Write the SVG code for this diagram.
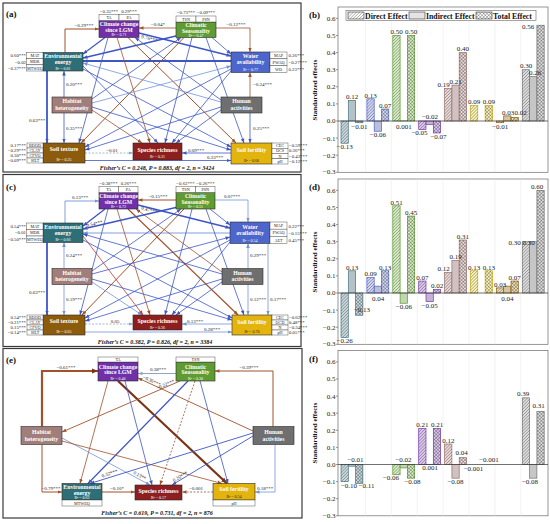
<svg xmlns="http://www.w3.org/2000/svg" width="550" height="524" viewBox="0 0 550 524">
<style>
text{font-family:"Liberation Serif","Times New Roman",serif}
.fr{fill:none;stroke:#3a3a3a;stroke-width:1.2}
.pl{font-size:9px;font-weight:bold;fill:#111}
.nb{stroke:#2a2a2a;stroke-width:.6}
.nt{font-size:5.8px;font-weight:bold;fill:#fff;text-anchor:middle}
.r2{font-size:4px;fill:#fff;text-anchor:middle}
.r2d{font-size:4px;fill:#222;text-anchor:middle}
.tb{fill:#fff;stroke:#444;stroke-width:.45}
.tt{font-size:4.2px;fill:#222;text-anchor:middle}
.lv{font-size:4.8px;fill:#222}
.lb{font-size:5px;fill:#222;text-anchor:middle}
.ls{font-size:5px;fill:#222}
.fc{font-size:6px;font-weight:bold;font-style:italic;fill:#111;text-anchor:middle}
.e path{fill:none}
.eb{stroke:#3d55c6}.el{stroke:#7393da}.er{stroke:#a0522d}.eg{stroke:#8ea5c5}.ed{stroke:#c63a2e}.ek{stroke:#7a3414}
.pb{fill:#fff;stroke:#6a6a6a;stroke-width:.7}
.gl{stroke:#e4e4e4;stroke-width:.5}
.zl{stroke:#333;stroke-width:.7}
.tk{stroke:#555;stroke-width:.6}
.ty{font-size:7px;fill:#222;text-anchor:end}
.vl{font-size:7px;fill:#222;text-anchor:middle}
.yt{font-size:7px;font-weight:bold;fill:#111;text-anchor:middle}
.lg{font-size:7.8px;font-weight:bold;fill:#111}
.c0,.c1,.c2,.c3,.c4,.c5,.c6,.c7,.cw{stroke-width:.7}
.c0{fill:#c9d9de;stroke:#4b7a86}.c1{fill:#d0d6f7;stroke:#5466cc}.c2{fill:#d8efc4;stroke:#5e9d34}.c3{fill:#dcc8ef;stroke:#7b3db3}
.c4{fill:#ead9d8;stroke:#9a7572}.c5{fill:#fbf4b8;stroke:#d1ae14}.c6{fill:#efdcb4;stroke:#8b6414}.c7{fill:#dedede;stroke:#7a7a7a}
.cw{fill:#fff;stroke:#555}
.hd{fill:url(#pd)}.hi{fill:url(#pi)}.ht{fill:url(#pt)}
</style>
<defs>
<marker id="mb" viewBox="0 0 10 10" refX="10" refY="5" markerWidth="4.5" markerHeight="4.5" markerUnits="userSpaceOnUse" orient="auto"><path d="M0,1L10,5L0,9z" fill="#3d55c6"/></marker>
<marker id="ml" viewBox="0 0 10 10" refX="10" refY="5" markerWidth="4.5" markerHeight="4.5" markerUnits="userSpaceOnUse" orient="auto"><path d="M0,1L10,5L0,9z" fill="#7393da"/></marker>
<marker id="mr" viewBox="0 0 10 10" refX="10" refY="5" markerWidth="4.5" markerHeight="4.5" markerUnits="userSpaceOnUse" orient="auto"><path d="M0,1L10,5L0,9z" fill="#a0522d"/></marker>
<marker id="mg" viewBox="0 0 10 10" refX="10" refY="5" markerWidth="4.5" markerHeight="4.5" markerUnits="userSpaceOnUse" orient="auto"><path d="M0,1L10,5L0,9z" fill="#8ea5c5"/></marker>
<marker id="md" viewBox="0 0 10 10" refX="10" refY="5" markerWidth="4.5" markerHeight="4.5" markerUnits="userSpaceOnUse" orient="auto"><path d="M0,1L10,5L0,9z" fill="#c63a2e"/></marker>
<marker id="mk" viewBox="0 0 10 10" refX="10" refY="5" markerWidth="6" markerHeight="6" markerUnits="userSpaceOnUse" orient="auto"><path d="M0,1L10,5L0,9z" fill="#7a3414"/></marker>
<pattern id="pd" width="2.2" height="2.2" patternUnits="userSpaceOnUse" patternTransform="rotate(45)"><line x1="1.1" y1="0" x2="1.1" y2="2.2" stroke="#000" stroke-opacity=".4" stroke-width=".6"/></pattern>
<pattern id="pi" width="1.8" height="4" patternUnits="userSpaceOnUse"><line x1=".9" y1="0" x2=".9" y2="4" stroke="#000" stroke-opacity=".4" stroke-width=".5"/></pattern>
<pattern id="pt" width="2.4" height="2.4" patternUnits="userSpaceOnUse" patternTransform="rotate(45)"><path d="M1.2,0V2.4M0,1.2H2.4" stroke="#000" stroke-opacity=".4" stroke-width=".55" fill="none"/></pattern>
</defs>
<rect width="550" height="524" fill="#fff"/>

<!-- ================= PANEL A ================= -->
<rect class="fr" x="3" y="3" width="298" height="169"/>
<text class="pl" x="6" y="17">(a)</text>
<g id="a-edges" class="e">
<path class="er" stroke-width="1" d="M65,52.5V29H99" marker-end="url(#mr)"/>
<path class="er" stroke-width=".8" d="M176,28H139" marker-end="url(#mr)"/>
<path class="er" stroke-width=".8" d="M216,28H250V52" marker-end="url(#mr)"/>
<path class="eb" stroke-width="2" d="M231,61H83" marker-end="url(#mb)"/>
<path class="er" stroke-width=".8" d="M250,97V72.5" marker-end="url(#mr)"/>
<path class="eb" stroke-width=".8" d="M250,113V143" marker-end="url(#mb)"/>
<path class="eb" stroke-width="1.8" d="M47,71V143" marker-end="url(#mb)"/>
<path class="eb" stroke-width=".8" d="M64,97V71" marker-end="url(#mb)"/>
<path class="eb" stroke-width=".8" d="M64,113V143" marker-end="url(#mb)"/>
<path class="eg" stroke-width=".8" stroke-dasharray="2,1.5" d="M85,153H133" marker-end="url(#mg)"/>
<path class="eb" stroke-width=".8" d="M231,153H182" marker-end="url(#mb)"/>
<path class="eb" stroke-width=".8" d="M85,160.5H231" marker-end="url(#mb)"/>
<path class="eb" stroke-width="1.2" d="M105,37.5L83,54" marker-end="url(#mb)"/>
<path class="eb" stroke-width="1.4" d="M139,33L231,56" marker-end="url(#mb)"/>
<path class="eb" stroke-width=".8" d="M108,37.5L79,143" marker-end="url(#mb)"/>
<path class="er" stroke-width=".8" d="M117,37.5L150,143" marker-end="url(#mr)"/>
<path class="er" stroke-width="1" d="M128,37.5L236,143" marker-end="url(#mr)"/>
<path class="eb" stroke-width=".8" d="M221,100L135,37.5" marker-end="url(#mb)"/>
<path class="eb" stroke-width="1.6" d="M178,35.5L83,58" marker-end="url(#mb)"/>
<path class="eb" stroke-width=".8" d="M212,37.5L231,54" marker-end="url(#mb)"/>
<path class="er" stroke-width="1" d="M184,37.5L81,143" marker-end="url(#mr)"/>
<path class="eb" stroke-width=".8" d="M192,37.5L165,143" marker-end="url(#mb)"/>
<path class="eb" stroke-width=".8" d="M206,37.5L244,143" marker-end="url(#mb)"/>
<path class="eb" stroke-width=".8" d="M92,99L181,37.5" marker-end="url(#mb)"/>
<path class="eb" stroke-width=".8" d="M83,66L158,143" marker-end="url(#mb)"/>
<path class="eb" stroke-width=".8" d="M83,69L231,147" marker-end="url(#mb)"/>
<path class="el" stroke-width=".8" d="M221,102L83,63" marker-end="url(#ml)"/>
<path class="eb" stroke-width=".8" d="M231,69L85,147" marker-end="url(#mb)"/>
<path class="eb" stroke-width=".8" d="M231,71L172,143" marker-end="url(#mb)"/>
<path class="el" stroke-width=".8" d="M92,103L231,66" marker-end="url(#ml)"/>
<path class="er" stroke-width=".8" d="M92,110L142,143" marker-end="url(#mr)"/>
<path class="eb" stroke-width=".8" d="M92,107L231,150" marker-end="url(#mb)"/>
<path class="eb" stroke-width=".8" d="M221,107L85,150" marker-end="url(#mb)"/>
<path class="eb" stroke-width=".8" d="M221,110L176,143" marker-end="url(#mb)"/>
<text class="lb" x="84" y="27.3">−0.29***</text>
<text class="lb" x="158" y="26.3">−0.04*</text>
<text class="lb" x="236" y="26.3">−0.12***</text>
<text class="ls" x="253" y="86">−0.24***</text>
<text class="ls" x="253" y="129.5">0.25***</text>
<text class="lb" x="37" y="122">0.63***</text>
<text class="ls" x="66" y="86">0.20***</text>
<text class="ls" x="66" y="129.5">0.35***</text>
<text class="lb" x="112" y="151.5">−0.01</text>
<text class="lb" x="196" y="151.5">0.09***</text>
<text class="lb" x="215" y="159">0.33***</text>
<text class="lb" transform="translate(149,40) rotate(14)">0.76***</text>
</g>
<g id="a-cc">
<rect class="nb" x="99" y="20.5" width="40" height="17" fill="#7130a8"/>
<text class="nt" x="119" y="26.3">Climate change</text><text class="nt" x="119" y="31.8">since LGM</text>
<text class="r2" x="119" y="36.4">R² = 0.71</text>
<rect class="tb" x="99" y="14.5" width="20" height="6"/><rect class="tb" x="119" y="14.5" width="20" height="6"/>
<text class="tt" x="109" y="19.1">TA</text><text class="tt" x="129" y="19.1">PA</text>
<text class="lv" x="109" y="12.6" text-anchor="middle">−0.35***</text><text class="lv" x="129" y="12.6" text-anchor="middle">0.29***</text>
</g>
<g id="a-cs">
<rect class="nb" x="176" y="22" width="40" height="15.5" fill="#5e9c33"/>
<text class="nt" x="196" y="27.4">Climatic</text><text class="nt" x="196" y="32.6">Seasonality</text>
<text class="r2" x="196" y="36.6">R² = 0.47</text>
<rect class="tb" x="176" y="16" width="20" height="6"/><rect class="tb" x="196" y="16" width="20" height="6"/>
<text class="tt" x="186" y="20.6">TSN</text><text class="tt" x="206" y="20.6">PSN</text>
<text class="lv" x="186" y="13.6" text-anchor="middle">−0.73***</text><text class="lv" x="206" y="13.6" text-anchor="middle">−0.09***</text>
</g>
<g id="a-ee">
<rect class="nb" x="43" y="52.5" width="40" height="18.5" fill="#2e6f77"/>
<text class="nt" x="63" y="58">Environmental</text><text class="nt" x="63" y="63.8">energy</text>
<text class="r2" x="63" y="69.6">R² = 0.81</text>
<rect class="tb" x="26.7" y="52.5" width="16.3" height="6.17"/><rect class="tb" x="26.7" y="58.67" width="16.3" height="6.17"/><rect class="tb" x="26.7" y="64.83" width="16.3" height="6.17"/>
<text class="tt" x="34.85" y="57.2">MAT</text><text class="tt" x="34.85" y="63.4">MDR</text><text class="tt" x="34.85" y="69.5">MTWEQ</text>
<text class="lv" x="26" y="57.3" text-anchor="end">0.60***</text><text class="lv" x="26" y="63.5" text-anchor="end">−0.02</text><text class="lv" x="26" y="69.6" text-anchor="end">−0.37***</text>
</g>
<g id="a-wa">
<rect class="nb" x="231" y="52" width="39" height="20.5" fill="#4c66cc"/>
<text class="nt" x="250.5" y="58.3">Water</text><text class="nt" x="250.5" y="64.1">availability</text>
<text class="r2" x="250.5" y="70.9">R² = 0.77</text>
<rect class="tb" x="270" y="52" width="17" height="6.83"/><rect class="tb" x="270" y="58.83" width="17" height="6.83"/><rect class="tb" x="270" y="65.67" width="17" height="6.83"/>
<text class="tt" x="278.5" y="56.9">MAP</text><text class="tt" x="278.5" y="63.7">PWAQ</text><text class="tt" x="278.5" y="70.6">WD</text>
<text class="lv" x="288.5" y="57.2">0.36***</text><text class="lv" x="288.5" y="64">−0.27***</text><text class="lv" x="288.5" y="70.8">0.23***</text>
</g>
<g id="a-hh">
<rect class="nb" x="52" y="97" width="40" height="16" fill="#a27e7b"/>
<text class="nt" x="72" y="103.3">Habitat</text><text class="nt" x="72" y="109.8">heterogeneity</text>
</g>
<g id="a-ha">
<rect class="nb" x="221" y="97" width="41" height="16" fill="#6f6f6f"/>
<text class="nt" x="241.5" y="103.3">Human</text><text class="nt" x="241.5" y="109.8">activities</text>
</g>
<g id="a-st">
<rect class="nb" x="43" y="143" width="42" height="20" fill="#8c5c0c"/>
<text class="nt" x="64" y="151.3">Soil texture</text>
<text class="r2" x="64" y="161.2">R² = 0.25</text>
<rect class="tb" x="27" y="143" width="16" height="5"/><rect class="tb" x="27" y="148" width="16" height="5"/><rect class="tb" x="27" y="153" width="16" height="5"/><rect class="tb" x="27" y="158" width="16" height="5"/>
<text class="tt" x="35" y="146.9" font-size="4">BDOD</text><text class="tt" x="35" y="151.9" font-size="4">CLAY</text><text class="tt" x="35" y="156.9" font-size="4">CFVO</text><text class="tt" x="35" y="161.9" font-size="4">SILT</text>
<text class="lv" x="26" y="147" text-anchor="end">0.17***</text><text class="lv" x="26" y="152" text-anchor="end">−0.29***</text><text class="lv" x="26" y="157" text-anchor="end">0.30***</text><text class="lv" x="26" y="162" text-anchor="end">−0.09***</text>
</g>
<g id="a-sr">
<rect class="nb" x="133" y="143" width="49" height="17" fill="#8e1f1f"/>
<text class="nt" x="157.5" y="151.5">Species richness</text>
<text class="r2" x="157.5" y="158.3">R² = 0.31</text>
</g>
<g id="a-sf">
<rect class="nb" x="231" y="143" width="41" height="21" fill="#e2b40d"/>
<text class="nt" x="251.5" y="152">Soil fertility</text>
<text class="r2d" x="251.5" y="162.4">R² = 0.60</text>
<rect class="tb" x="272" y="143" width="16" height="5.25"/><rect class="tb" x="272" y="148.25" width="16" height="5.25"/><rect class="tb" x="272" y="153.5" width="16" height="5.25"/><rect class="tb" x="272" y="158.75" width="16" height="5.25"/>
<text class="tt" x="280" y="147">CEC</text><text class="tt" x="280" y="152.2">OCS</text><text class="tt" x="280" y="157.5">N</text><text class="tt" x="280" y="162.7">pH</text>
<text class="lv" x="289" y="147.2">−0.59***</text><text class="lv" x="289" y="152.4">0.36***</text><text class="lv" x="289" y="157.7">−0.43***</text><text class="lv" x="289" y="162.9">−0.12***</text>
</g>
<text class="fc" x="157" y="169.8">Fisher’s C = 0.248, P = 0.883, df = 2, n = 3424</text>

<!-- ================= PANEL C ================= -->
<rect class="fr" x="3" y="174.5" width="298" height="172"/>
<text class="pl" x="6" y="190">(c)</text>
<g id="c-edges" class="e">
<path class="el" stroke-width=".9" d="M65,223V201H99" marker-end="url(#ml)"/>
<path class="er" stroke-width="1" d="M176,200H138" marker-end="url(#mr)"/>
<path class="el" stroke-width=".8" d="M215,200H248V222" marker-end="url(#ml)"/>
<path class="el" stroke-width=".9" d="M230,233H83" marker-end="url(#ml)"/>
<path class="el" stroke-width=".8" d="M248,268.5V243.5" marker-end="url(#ml)"/>
<path class="el" stroke-width=".8" d="M248,284.5V315" marker-end="url(#ml)"/>
<path class="el" stroke-width=".8" d="M268,243.5V315" marker-end="url(#ml)"/>
<path class="eb" stroke-width="1.8" d="M47,242.5V315" marker-end="url(#mb)"/>
<path class="el" stroke-width=".8" d="M64,268.5V242.5" marker-end="url(#ml)"/>
<path class="el" stroke-width=".8" d="M64,284.5V315" marker-end="url(#ml)"/>
<path class="eg" stroke-width=".8" stroke-dasharray="2,1.5" d="M85,324H133" marker-end="url(#mg)"/>
<path class="el" stroke-width=".8" d="M232,324H182" marker-end="url(#ml)"/>
<path class="el" stroke-width=".8" d="M85,332H232" marker-end="url(#ml)"/>
<path class="eb" stroke-width="1.4" d="M105,209L83,226" marker-end="url(#mb)"/>
<path class="eb" stroke-width="1.4" d="M138,205L230,228" marker-end="url(#mb)"/>
<path class="eb" stroke-width=".8" d="M108,209L80,315" marker-end="url(#mb)"/>
<path class="er" stroke-width=".8" d="M117,209L150,315" marker-end="url(#mr)"/>
<path class="er" stroke-width="1.2" d="M128,209L238,315" marker-end="url(#mr)"/>
<path class="er" stroke-width=".8" d="M222,272L136,209" marker-end="url(#mr)"/>
<path class="eb" stroke-width="1.4" d="M178,207L83,229" marker-end="url(#mb)"/>
<path class="eb" stroke-width=".8" d="M210,209L230,225" marker-end="url(#mb)"/>
<path class="er" stroke-width="1" d="M184,209L82,315" marker-end="url(#mr)"/>
<path class="eb" stroke-width=".8" d="M192,209L165,315" marker-end="url(#mb)"/>
<path class="eb" stroke-width=".8" d="M206,209L244,315" marker-end="url(#mb)"/>
<path class="eb" stroke-width=".8" d="M92,271L181,209" marker-end="url(#mb)"/>
<path class="ed" stroke-width=".8" d="M83,236L143,315" marker-end="url(#md)"/>
<path class="eb" stroke-width=".8" d="M83,240L232,318" marker-end="url(#mb)"/>
<path class="eb" stroke-width=".8" d="M222,274L83,234" marker-end="url(#mb)"/>
<path class="eb" stroke-width=".8" d="M230,240L85,318" marker-end="url(#mb)"/>
<path class="eb" stroke-width=".8" d="M230,242L172,315" marker-end="url(#mb)"/>
<path class="eb" stroke-width=".8" d="M92,274L230,237" marker-end="url(#mb)"/>
<path class="el" stroke-width=".8" d="M92,282L142,315" marker-end="url(#ml)"/>
<path class="eb" stroke-width=".8" d="M92,279L232,320" marker-end="url(#mb)"/>
<path class="eb" stroke-width=".8" d="M222,279L85,321" marker-end="url(#mb)"/>
<path class="eb" stroke-width=".8" d="M222,282L176,315" marker-end="url(#mb)"/>
<text class="lb" x="80" y="199">0.13***</text>
<text class="lb" x="158" y="198">−0.15***</text>
<text class="lb" x="232" y="198">0.07***</text>
<text class="ls" x="250" y="257">0.29***</text>
<text class="ls" x="250" y="301">0.12***</text>
<text class="ls" x="270" y="301">0.17***</text>
<text class="lb" x="37" y="293.5">0.63***</text>
<text class="ls" x="66" y="257">0.24***</text>
<text class="ls" x="66" y="301">0.19***</text>
<text class="lb" x="115" y="322.5">0.05</text>
<text class="lb" x="195" y="322.5">0.13***</text>
<text class="lb" x="212" y="330.5">0.28***</text>
<text class="lb" transform="translate(149,211.5) rotate(14)">0.47***</text>
<text class="lb" transform="translate(95,225.3) rotate(-13)">0.54***</text>
</g>
<g id="c-cc">
<rect class="nb" x="99" y="192.5" width="39" height="16.5" fill="#7130a8"/>
<text class="nt" x="118.5" y="198.2">Climate change</text><text class="nt" x="118.5" y="203.6">since LGM</text>
<text class="r2" x="118.5" y="207.9">R² = 0.72</text>
<rect class="tb" x="99" y="186.5" width="19.5" height="6"/><rect class="tb" x="118.5" y="186.5" width="19.5" height="6"/>
<text class="tt" x="108.75" y="191.1">TA</text><text class="tt" x="128.25" y="191.1">PA</text>
<text class="lv" x="108.5" y="184.6" text-anchor="middle">−0.38***</text><text class="lv" x="128.5" y="184.6" text-anchor="middle">0.26***</text>
</g>
<g id="c-cs">
<rect class="nb" x="176" y="192.5" width="39" height="16.5" fill="#5e9c33"/>
<text class="nt" x="195.5" y="198.2">Climatic</text><text class="nt" x="195.5" y="203.6">Seasonality</text>
<text class="r2" x="195.5" y="207.9">R² = 0.51</text>
<rect class="tb" x="176" y="186.5" width="19.5" height="6"/><rect class="tb" x="195.5" y="186.5" width="19.5" height="6"/>
<text class="tt" x="185.75" y="191.1">TSN</text><text class="tt" x="205.25" y="191.1">PSN</text>
<text class="lv" x="185.5" y="184.6" text-anchor="middle">−0.63***</text><text class="lv" x="205.5" y="184.6" text-anchor="middle">−0.26***</text>
</g>
<g id="c-ee">
<rect class="nb" x="43" y="223" width="40" height="19.5" fill="#2e6f77"/>
<text class="nt" x="63" y="228.8">Environmental</text><text class="nt" x="63" y="234.6">energy</text>
<text class="r2" x="63" y="241">R² = 0.66</text>
<rect class="tb" x="26.7" y="223" width="16.3" height="6.5"/><rect class="tb" x="26.7" y="229.5" width="16.3" height="6.5"/><rect class="tb" x="26.7" y="236" width="16.3" height="6.5"/>
<text class="tt" x="34.85" y="227.8">MAT</text><text class="tt" x="34.85" y="234.3">MDR</text><text class="tt" x="34.85" y="240.8">MTWEQ</text>
<text class="lv" x="26" y="227.9" text-anchor="end">0.54***</text><text class="lv" x="26" y="234.4" text-anchor="end">−0.01</text><text class="lv" x="26" y="240.9" text-anchor="end">−0.50***</text>
</g>
<g id="c-wa">
<rect class="nb" x="230" y="222" width="40" height="21.5" fill="#4c66cc"/>
<text class="nt" x="250" y="228.8">Water</text><text class="nt" x="250" y="234.8">availability</text>
<text class="r2" x="250" y="242">R² = 0.54</text>
<rect class="tb" x="270" y="222" width="17" height="7.17"/><rect class="tb" x="270" y="229.17" width="17" height="7.17"/><rect class="tb" x="270" y="236.33" width="17" height="7.17"/>
<text class="tt" x="278.5" y="227.2">MAP</text><text class="tt" x="278.5" y="234.4">PWAQ</text><text class="tt" x="278.5" y="241.5">AET</text>
<text class="lv" x="288.5" y="227.5">0.22***</text><text class="lv" x="288.5" y="234.7">−0.15***</text><text class="lv" x="288.5" y="241.8">0.45***</text>
</g>
<g id="c-hh">
<rect class="nb" x="52" y="268.5" width="40" height="16" fill="#a27e7b"/>
<text class="nt" x="72" y="274.8">Habitat</text><text class="nt" x="72" y="281.3">heterogeneity</text>
</g>
<g id="c-ha">
<rect class="nb" x="222" y="268.5" width="41" height="16" fill="#6f6f6f"/>
<text class="nt" x="242.5" y="274.8">Human</text><text class="nt" x="242.5" y="281.3">activities</text>
</g>
<g id="c-st">
<rect class="nb" x="43" y="315" width="42" height="20" fill="#8c5c0c"/>
<text class="nt" x="64" y="323.3">Soil texture</text>
<text class="r2" x="64" y="333.2">R² = 0.65</text>
<rect class="tb" x="27" y="315" width="16" height="5"/><rect class="tb" x="27" y="320" width="16" height="5"/><rect class="tb" x="27" y="325" width="16" height="5"/><rect class="tb" x="27" y="330" width="16" height="5"/>
<text class="tt" x="35" y="318.9" font-size="4">BDOD</text><text class="tt" x="35" y="323.9" font-size="4">CLAY</text><text class="tt" x="35" y="328.9" font-size="4">CFVO</text><text class="tt" x="35" y="333.9" font-size="4">SILT</text>
<text class="lv" x="26" y="319" text-anchor="end">0.54***</text><text class="lv" x="26" y="324" text-anchor="end">−0.21***</text><text class="lv" x="26" y="329" text-anchor="end">0.15***</text><text class="lv" x="26" y="334" text-anchor="end">−0.14***</text>
</g>
<g id="c-sr">
<rect class="nb" x="133" y="315" width="49" height="15" fill="#8e1f1f"/>
<text class="nt" x="157.5" y="323.3">Species richness</text>
<text class="r2" x="157.5" y="328.9">R² = 0.36</text>
</g>
<g id="c-sf">
<rect class="nb" x="232" y="315" width="40" height="20" fill="#e2b40d"/>
<text class="nt" x="252" y="323.5">Soil fertility</text>
<text class="r2d" x="252" y="333.2">R² = 0.70</text>
<rect class="tb" x="272" y="315" width="16" height="5"/><rect class="tb" x="272" y="320" width="16" height="5"/><rect class="tb" x="272" y="325" width="16" height="5"/><rect class="tb" x="272" y="330" width="16" height="5"/>
<text class="tt" x="280" y="318.8">CEC</text><text class="tt" x="280" y="323.8">OCD</text><text class="tt" x="280" y="328.8">N</text><text class="tt" x="280" y="333.8">pH</text>
<text class="lv" x="289" y="319">−0.62***</text><text class="lv" x="289" y="324">0.48***</text><text class="lv" x="289" y="329">−0.34***</text><text class="lv" x="289" y="334">0.05***</text>
</g>
<text class="fc" x="155" y="344.3">Fisher’s C = 0.382, P = 0.826, df = 2, n = 3384</text>

<!-- ================= PANEL E ================= -->
<rect class="fr" x="3" y="348.5" width="299" height="169.5"/>
<text class="pl" x="6" y="363">(e)</text>
<g id="e-edges" class="e">
<path class="er" stroke-width="2.2" d="M42,426.5V371H98" marker-end="url(#mk)"/>
<path class="er" stroke-width="1" d="M273,426.5V371H215" marker-end="url(#mr)"/>
<path class="eg" stroke-width="1.2" d="M176,373.5H138" marker-end="url(#mg)"/>
<path class="er" stroke-width="1" d="M42,444.5V492H62" marker-end="url(#mr)"/>
<path class="el" stroke-width=".8" d="M275,444.5V492H255" marker-end="url(#ml)"/>
<path class="er" stroke-width="1" d="M102,492H135" marker-end="url(#mr)"/>
<path class="er" stroke-width=".8" stroke-dasharray="2,1.5" d="M213,492H182" marker-end="url(#mr)"/>
<path class="ek" stroke-width="2.2" d="M118,381L227,483.5" marker-end="url(#mk)"/>
<path class="er" stroke-width=".8" d="M108,381L80,483.5" marker-end="url(#mr)"/>
<path class="eb" stroke-width=".8" d="M125,381L152,485" marker-end="url(#mb)"/>
<path class="er" stroke-width=".9" d="M253,431L138,378" marker-end="url(#mr)"/>
<path class="er" stroke-width=".9" d="M180,381L62,432" marker-end="url(#mr)"/>
<path class="eb" stroke-width="1.2" d="M188,381L88,483.5" marker-end="url(#mb)"/>
<path class="er" stroke-width=".8" stroke-dasharray="2,1.5" d="M195,381L160,485" marker-end="url(#mr)"/>
<path class="eb" stroke-width=".8" d="M200,381L228,483.5" marker-end="url(#mb)"/>
<path class="el" stroke-width=".8" d="M62,438L150,485" marker-end="url(#ml)"/>
<path class="er" stroke-width=".8" d="M62,441L222,483.5" marker-end="url(#mr)"/>
<path class="eb" stroke-width=".9" d="M253,433L90,483.5" marker-end="url(#mb)"/>
<path class="eb" stroke-width=".9" d="M253,436L172,485" marker-end="url(#mb)"/>
<text class="lb" x="66" y="368.5">−0.61***</text>
<text class="lb" x="249" y="368.5">−0.39***</text>
<text class="lb" x="158" y="371">0.38***</text>
<text class="lb" x="51" y="490">−0.79***</text>
<text class="lb" x="265" y="490">0.18***</text>
<text class="lb" x="117" y="490">−0.10*</text>
<text class="lb" x="196" y="490">−0.001</text>
<text class="lb" transform="translate(110,475) rotate(-17)">0.32***</text>
<text class="lb" transform="translate(139,477) rotate(28)">0.13**</text>
<text class="lb" transform="translate(181,478) rotate(-31)">0.20***</text>
<text class="lb" transform="translate(151,382.3) rotate(24.7)">−0.36***</text>
<text class="lb" transform="translate(166,386) rotate(-23.4)">−0.22***</text>
</g>
<g id="e-cc">
<rect class="nb" x="98" y="362" width="40" height="19" fill="#7130a8"/>
<text class="nt" x="118" y="368.5">Climate change</text><text class="nt" x="118" y="374.3">since LGM</text>
<text class="r2" x="118" y="379.7">R² = 0.40</text>
<rect class="tb" x="98" y="357" width="40" height="5"/>
<text class="tt" x="118" y="360.9">TA</text>
</g>
<g id="e-cs">
<rect class="nb" x="176" y="362" width="39" height="19" fill="#5e9c33"/>
<text class="nt" x="195.5" y="368.5">Climatic</text><text class="nt" x="195.5" y="374.3">Seasonality</text>
<text class="r2" x="195.5" y="379.7">R² = 0.30</text>
<rect class="tb" x="176" y="357" width="39" height="5"/>
<text class="tt" x="195.5" y="360.9">TSN</text>
</g>
<g id="e-hh">
<rect class="nb" x="21" y="426.5" width="41" height="18" fill="#a27e7b"/>
<text class="nt" x="41.5" y="433.8">Habitat</text><text class="nt" x="41.5" y="440.5">heterogeneity</text>
</g>
<g id="e-ha">
<rect class="nb" x="253" y="426.5" width="41" height="18" fill="#6f6f6f"/>
<text class="nt" x="273.5" y="433.8">Human</text><text class="nt" x="273.5" y="440.5">activities</text>
</g>
<g id="e-ee">
<rect class="nb" x="62" y="483.5" width="40" height="16.5" fill="#2e6f77"/>
<text class="nt" x="82" y="489">Environmental</text><text class="nt" x="82" y="494.6">energy</text>
<text class="r2" x="82" y="499">R² = 0.62</text>
<rect class="tb" x="62" y="500" width="40" height="6"/>
<text class="tt" x="82" y="504.6">MTWEQ</text>
</g>
<g id="e-sr">
<rect class="nb" x="135" y="485" width="47" height="15" fill="#8e1f1f"/>
<text class="nt" x="158.5" y="493.3">Species richness</text>
<text class="r2" x="158.5" y="498.8">R² = 0.17</text>
</g>
<g id="e-sf">
<rect class="nb" x="213" y="483.5" width="42" height="16.5" fill="#e2b40d"/>
<text class="nt" x="234" y="491.2">Soil fertility</text>
<text class="r2d" x="234" y="498.4">R² = 0.54</text>
<rect class="tb" x="213" y="500" width="42" height="6"/>
<text class="tt" x="234" y="504.6">pH</text>
</g>
<text class="fc" x="157" y="514.5">Fisher’s C = 0.619, P = 0.731, df = 2, n = 876</text>

<!-- ================= CHART B ================= -->
<g id="chart-b">
<rect class="pb" x="338" y="7" width="210" height="165.3"/>
<path class="gl" d="M365.4,7V172.3M391.3,7V172.3M417.2,7V172.3M443.1,7V172.3M469,7V172.3M494.9,7V172.3M520.8,7V172.3"/>
<path class="tk" d="M336,18.4H338M336,35.5H338M336,52.6H338M336,69.7H338M336,86.8H338M336,103.9H338M336,121H338M336,138.1H338M336,155.2H338M336,172.3H338"/>
<text class="ty" x="335.5" y="20.8">0.6</text><text class="ty" x="335.5" y="37.9">0.5</text><text class="ty" x="335.5" y="55">0.4</text><text class="ty" x="335.5" y="72.1">0.3</text><text class="ty" x="335.5" y="89.2">0.2</text><text class="ty" x="335.5" y="106.3">0.1</text><text class="ty" x="335.5" y="123.4">0.0</text><text class="ty" x="335.5" y="140.5">−0.1</text><text class="ty" x="335.5" y="157.6">−0.2</text><text class="ty" x="335.5" y="174.2">−0.3</text>
<text class="yt" transform="translate(317,90) rotate(-90)">Standardized effects</text>
<text class="pl" x="309" y="17.5" font-size="8">(b)</text>
<rect x="346" y="10.5" width="190" height="10" fill="#fff" stroke="#666" stroke-width=".6"/>
<rect class="cw" x="348" y="12" width="16" height="7"/><rect class="hd" x="348" y="12" width="16" height="7"/>
<text class="lg" x="365" y="18.5">Direct Effect</text>
<rect class="cw" x="409" y="12" width="16" height="7"/><rect class="hi" x="409" y="12" width="16" height="7"/>
<text class="lg" x="426" y="18.5">Indirect Effect</text>
<rect class="cw" x="476" y="12" width="16" height="7"/><rect class="ht" x="476" y="12" width="16" height="7"/>
<text class="lg" x="493" y="18.5">Total Effect</text>
<rect class="c0" x="341" y="121" width="7.3" height="22.23"/><rect class="hd" x="341" y="121" width="7.3" height="22.23"/>
<rect class="c0" x="348.3" y="100.48" width="7.3" height="20.52"/><rect class="hi" x="348.3" y="100.48" width="7.3" height="20.52"/>
<rect class="c0" x="355.6" y="121" width="7.3" height="1.71"/><rect class="ht" x="355.6" y="121" width="7.3" height="1.71"/>
<rect class="c1" x="366.9" y="98.77" width="7.3" height="22.23"/><rect class="hd" x="366.9" y="98.77" width="7.3" height="22.23"/>
<rect class="c1" x="374.2" y="121" width="7.3" height="10.26"/><rect class="hi" x="374.2" y="121" width="7.3" height="10.26"/>
<rect class="c1" x="381.5" y="109.03" width="7.3" height="11.97"/><rect class="ht" x="381.5" y="109.03" width="7.3" height="11.97"/>
<rect class="c2" x="392.8" y="35.5" width="7.3" height="85.5"/><rect class="hd" x="392.8" y="35.5" width="7.3" height="85.5"/>
<rect class="c2" x="400.1" y="120.83" width="7.3" height=".17"/>
<rect class="c2" x="407.4" y="35.5" width="7.3" height="85.5"/><rect class="ht" x="407.4" y="35.5" width="7.3" height="85.5"/>
<rect class="c3" x="418.7" y="121" width="7.3" height="8.55"/><rect class="hd" x="418.7" y="121" width="7.3" height="8.55"/>
<rect class="c3" x="426" y="121" width="7.3" height="3.42"/><rect class="hi" x="426" y="121" width="7.3" height="3.42"/>
<rect class="c3" x="433.3" y="121" width="7.3" height="11.97"/><rect class="ht" x="433.3" y="121" width="7.3" height="11.97"/>
<rect class="c4" x="444.6" y="88.51" width="7.3" height="32.49"/><rect class="hd" x="444.6" y="88.51" width="7.3" height="32.49"/>
<rect class="c4" x="451.9" y="85.09" width="7.3" height="35.91"/><rect class="hi" x="451.9" y="85.09" width="7.3" height="35.91"/>
<rect class="c4" x="459.2" y="52.6" width="7.3" height="68.4"/><rect class="ht" x="459.2" y="52.6" width="7.3" height="68.4"/>
<rect class="c5" x="470.5" y="105.61" width="7.3" height="15.39"/><rect class="hd" x="470.5" y="105.61" width="7.3" height="15.39"/>
<rect class="c5" x="485.1" y="105.61" width="7.3" height="15.39"/><rect class="ht" x="485.1" y="105.61" width="7.3" height="15.39"/>
<rect class="c6" x="496.4" y="121" width="7.3" height="1.71"/><rect class="hd" x="496.4" y="121" width="7.3" height="1.71"/>
<rect class="c6" x="503.7" y="115.87" width="7.3" height="5.13"/><rect class="hi" x="503.7" y="115.87" width="7.3" height="5.13"/>
<rect class="c6" x="511" y="117.58" width="7.3" height="3.42"/><rect class="ht" x="511" y="117.58" width="7.3" height="3.42"/>
<rect class="c7" x="522.3" y="69.7" width="7.3" height="51.3"/><rect class="hd" x="522.3" y="69.7" width="7.3" height="51.3"/>
<rect class="c7" x="529.6" y="76.54" width="7.3" height="44.46"/><rect class="hi" x="529.6" y="76.54" width="7.3" height="44.46"/>
<rect class="c7" x="536.9" y="25.24" width="7.3" height="95.76"/><rect class="ht" x="536.9" y="25.24" width="7.3" height="95.76"/>
<line class="zl" x1="338" y1="121" x2="548" y2="121"/>
<text class="vl" x="344.6" y="149">−0.13</text><text class="vl" x="352" y="99.3">0.12</text><text class="vl" x="359.3" y="128.5">−0.01</text>
<text class="vl" x="370.6" y="97.6">0.13</text><text class="vl" x="377.9" y="137.1">−0.06</text><text class="vl" x="385.2" y="107.8">0.07</text>
<text class="vl" x="396.5" y="34.3">0.50</text><text class="vl" x="403.8" y="128.5">0.001</text><text class="vl" x="411.1" y="34.3">0.50</text>
<text class="vl" x="419.5" y="135.4">−0.05</text><text class="vl" x="430" y="118.5">−0.02</text><text class="vl" x="438.5" y="139">−0.07</text>
<text class="vl" x="443.5" y="87">0.19</text><text class="vl" x="455.6" y="83.9">0.21</text><text class="vl" x="462.9" y="51.4">0.40</text>
<text class="vl" x="474.2" y="104.4">0.09</text><text class="vl" x="488.8" y="104.4">0.09</text>
<text class="vl" x="500.1" y="128.5">−0.01</text><text class="vl" x="508" y="114.8">0.03</text><text class="vl" x="520.5" y="114.8">0.02</text>
<text class="vl" x="526" y="68.3">0.30</text><text class="vl" x="535" y="75.3">0.26</text><text class="vl" x="528" y="29">0.56</text>
</g>

<!-- ================= CHART D ================= -->
<g id="chart-d">
<rect class="pb" x="338" y="179" width="210" height="165.3"/>
<path class="gl" d="M365.4,179V344.3M391.3,179V344.3M417.2,179V344.3M443.1,179V344.3M469,179V344.3M494.9,179V344.3M520.8,179V344.3"/>
<path class="tk" d="M336,190.4H338M336,207.5H338M336,224.6H338M336,241.7H338M336,258.8H338M336,275.9H338M336,293H338M336,310.1H338M336,327.2H338M336,344.3H338"/>
<text class="ty" x="335.5" y="192.8">0.6</text><text class="ty" x="335.5" y="209.9">0.5</text><text class="ty" x="335.5" y="227">0.4</text><text class="ty" x="335.5" y="244.1">0.3</text><text class="ty" x="335.5" y="261.2">0.2</text><text class="ty" x="335.5" y="278.3">0.1</text><text class="ty" x="335.5" y="295.4">0.0</text><text class="ty" x="335.5" y="312.5">−0.1</text><text class="ty" x="335.5" y="329.6">−0.2</text><text class="ty" x="335.5" y="345.8">−0.3</text>
<text class="yt" transform="translate(317,262) rotate(-90)">Standardized effects</text>
<text class="pl" x="309" y="189.5" font-size="8">(d)</text>
<rect class="c0" x="341" y="293" width="7.3" height="44.46"/><rect class="hd" x="341" y="293" width="7.3" height="44.46"/>
<rect class="c0" x="348.3" y="270.77" width="7.3" height="22.23"/><rect class="hi" x="348.3" y="270.77" width="7.3" height="22.23"/>
<rect class="c0" x="355.6" y="293" width="7.3" height="22.23"/><rect class="ht" x="355.6" y="293" width="7.3" height="22.23"/>
<rect class="c1" x="366.9" y="277.61" width="7.3" height="15.39"/><rect class="hd" x="366.9" y="277.61" width="7.3" height="15.39"/>
<rect class="c1" x="374.2" y="286.16" width="7.3" height="6.84"/><rect class="hi" x="374.2" y="286.16" width="7.3" height="6.84"/>
<rect class="c1" x="381.5" y="270.77" width="7.3" height="22.23"/><rect class="ht" x="381.5" y="270.77" width="7.3" height="22.23"/>
<rect class="c2" x="392.8" y="205.79" width="7.3" height="87.21"/><rect class="hd" x="392.8" y="205.79" width="7.3" height="87.21"/>
<rect class="c2" x="400.1" y="293" width="7.3" height="10.26"/><rect class="hi" x="400.1" y="293" width="7.3" height="10.26"/>
<rect class="c2" x="407.4" y="216.05" width="7.3" height="76.95"/><rect class="ht" x="407.4" y="216.05" width="7.3" height="76.95"/>
<rect class="c3" x="418.7" y="281.03" width="7.3" height="11.97"/><rect class="hd" x="418.7" y="281.03" width="7.3" height="11.97"/>
<rect class="c3" x="426" y="293" width="7.3" height="8.55"/><rect class="hi" x="426" y="293" width="7.3" height="8.55"/>
<rect class="c3" x="433.3" y="289.58" width="7.3" height="3.42"/><rect class="ht" x="433.3" y="289.58" width="7.3" height="3.42"/>
<rect class="c4" x="444.6" y="272.48" width="7.3" height="20.52"/><rect class="hd" x="444.6" y="272.48" width="7.3" height="20.52"/>
<rect class="c4" x="451.9" y="260.51" width="7.3" height="32.49"/><rect class="hi" x="451.9" y="260.51" width="7.3" height="32.49"/>
<rect class="c4" x="459.2" y="239.99" width="7.3" height="53.01"/><rect class="ht" x="459.2" y="239.99" width="7.3" height="53.01"/>
<rect class="c5" x="470.5" y="270.77" width="7.3" height="22.23"/><rect class="hd" x="470.5" y="270.77" width="7.3" height="22.23"/>
<rect class="c5" x="485.1" y="270.77" width="7.3" height="22.23"/><rect class="ht" x="485.1" y="270.77" width="7.3" height="22.23"/>
<rect class="c6" x="496.4" y="287.87" width="7.3" height="5.13"/><rect class="hd" x="496.4" y="287.87" width="7.3" height="5.13"/>
<rect class="c6" x="503.7" y="286.16" width="7.3" height="6.84"/><rect class="hi" x="503.7" y="286.16" width="7.3" height="6.84"/>
<rect class="c6" x="511" y="281.03" width="7.3" height="11.97"/><rect class="ht" x="511" y="281.03" width="7.3" height="11.97"/>
<rect class="c7" x="522.3" y="241.7" width="7.3" height="51.3"/><rect class="hd" x="522.3" y="241.7" width="7.3" height="51.3"/>
<rect class="c7" x="529.6" y="241.7" width="7.3" height="51.3"/><rect class="hi" x="529.6" y="241.7" width="7.3" height="51.3"/>
<rect class="c7" x="536.9" y="190.4" width="7.3" height="102.6"/><rect class="ht" x="536.9" y="190.4" width="7.3" height="102.6"/>
<line class="zl" x1="338" y1="293" x2="548" y2="293"/>
<text class="vl" x="344.6" y="342.8">−0.26</text><text class="vl" x="352" y="269.6">0.13</text><text class="vl" x="362" y="312">−0.13</text>
<text class="vl" x="370.6" y="276.4">0.09</text><text class="vl" x="378" y="300.5">0.04</text><text class="vl" x="385.2" y="269.6">0.13</text>
<text class="vl" x="396.5" y="204.6">0.51</text><text class="vl" x="403.8" y="309.3">−0.06</text><text class="vl" x="411.1" y="214.9">0.45</text>
<text class="vl" x="422.4" y="279.8">0.07</text><text class="vl" x="429.7" y="307.6">−0.05</text><text class="vl" x="437" y="288.4">0.02</text>
<text class="vl" x="443.5" y="271.3">0.12</text><text class="vl" x="455.6" y="259.3">0.19</text><text class="vl" x="462.9" y="238.8">0.31</text>
<text class="vl" x="474.2" y="269.6">0.13</text><text class="vl" x="488.8" y="269.6">0.13</text>
<text class="vl" x="500.1" y="286.7">0.03</text><text class="vl" x="507.4" y="300.5">0.04</text><text class="vl" x="514.7" y="279.8">0.07</text>
<text class="vl" x="514.5" y="244.5">0.30</text><text class="vl" x="528.5" y="244.5">0.30</text><text class="vl" x="537" y="188.8">0.60</text>
</g>

<!-- ================= CHART F ================= -->
<g id="chart-f">
<rect class="pb" x="338" y="350.5" width="210" height="165.3"/>
<path class="gl" d="M365.4,350.5V515.8M391.3,350.5V515.8M417.2,350.5V515.8M443.1,350.5V515.8M469,350.5V515.8M494.9,350.5V515.8M520.8,350.5V515.8"/>
<path class="tk" d="M336,361.9H338M336,379H338M336,396.1H338M336,413.2H338M336,430.3H338M336,447.4H338M336,464.5H338M336,481.6H338M336,498.7H338M336,515.8H338"/>
<text class="ty" x="335.5" y="364.3">0.6</text><text class="ty" x="335.5" y="381.4">0.5</text><text class="ty" x="335.5" y="398.5">0.4</text><text class="ty" x="335.5" y="415.6">0.3</text><text class="ty" x="335.5" y="432.7">0.2</text><text class="ty" x="335.5" y="449.8">0.1</text><text class="ty" x="335.5" y="466.9">0.0</text><text class="ty" x="335.5" y="484">−0.1</text><text class="ty" x="335.5" y="501.1">−0.2</text><text class="ty" x="335.5" y="517.5">−0.3</text>
<text class="yt" transform="translate(317,433) rotate(-90)">Standardized effects</text>
<text class="pl" x="309" y="361.5" font-size="8">(f)</text>
<rect class="c0" x="341" y="464.5" width="7.3" height="17.1"/><rect class="hd" x="341" y="464.5" width="7.3" height="17.1"/>
<rect class="c0" x="348.3" y="464.5" width="7.3" height="1.71"/><rect class="hi" x="348.3" y="464.5" width="7.3" height="1.71"/>
<rect class="c0" x="355.6" y="464.5" width="7.3" height="18.81"/><rect class="ht" x="355.6" y="464.5" width="7.3" height="18.81"/>
<rect class="c2" x="392.8" y="464.5" width="7.3" height="10.26"/><rect class="hd" x="392.8" y="464.5" width="7.3" height="10.26"/>
<rect class="c2" x="400.1" y="464.5" width="7.3" height="3.42"/><rect class="hi" x="400.1" y="464.5" width="7.3" height="3.42"/>
<rect class="c2" x="407.4" y="464.5" width="7.3" height="13.68"/><rect class="ht" x="407.4" y="464.5" width="7.3" height="13.68"/>
<rect class="c3" x="418.7" y="428.59" width="7.3" height="35.91"/><rect class="hd" x="418.7" y="428.59" width="7.3" height="35.91"/>
<rect class="c3" x="426" y="464.33" width="7.3" height=".17"/>
<rect class="c3" x="433.3" y="428.59" width="7.3" height="35.91"/><rect class="ht" x="433.3" y="428.59" width="7.3" height="35.91"/>
<rect class="c4" x="444.6" y="443.98" width="7.3" height="20.52"/><rect class="hd" x="444.6" y="443.98" width="7.3" height="20.52"/>
<rect class="c4" x="451.9" y="464.5" width="7.3" height="13.68"/><rect class="hi" x="451.9" y="464.5" width="7.3" height="13.68"/>
<rect class="c4" x="459.2" y="457.66" width="7.3" height="6.84"/><rect class="ht" x="459.2" y="457.66" width="7.3" height="6.84"/>
<rect class="c7" x="522.3" y="397.81" width="7.3" height="66.69"/><rect class="hd" x="522.3" y="397.81" width="7.3" height="66.69"/>
<rect class="c7" x="529.6" y="464.5" width="7.3" height="13.68"/><rect class="hi" x="529.6" y="464.5" width="7.3" height="13.68"/>
<rect class="c7" x="536.9" y="411.49" width="7.3" height="53.01"/><rect class="ht" x="536.9" y="411.49" width="7.3" height="53.01"/>
<line class="zl" x1="338" y1="464.5" x2="548" y2="464.5"/>
<text class="vl" x="349" y="488">−0.10</text><text class="vl" x="355.5" y="462.3">−0.01</text><text class="vl" x="366.5" y="488.3">−0.11</text>
<text class="vl" x="391" y="480">−0.06</text><text class="vl" x="403.5" y="462.3">−0.02</text><text class="vl" x="412.5" y="484">−0.08</text>
<text class="vl" x="422.4" y="427.4">0.21</text><text class="vl" x="430" y="470">0.001</text><text class="vl" x="437" y="427.4">0.21</text>
<text class="vl" x="448.3" y="442.8">0.12</text><text class="vl" x="455.5" y="484">−0.08</text><text class="vl" x="461.5" y="455">0.04</text>
<text class="vl" x="489" y="462.3">−0.001</text><text class="vl" x="473.5" y="470.6">−0.001</text>
<text class="vl" x="523" y="395.5">0.39</text><text class="vl" x="530" y="484">−0.08</text><text class="vl" x="538.5" y="408">0.31</text>
</g>
</svg>
